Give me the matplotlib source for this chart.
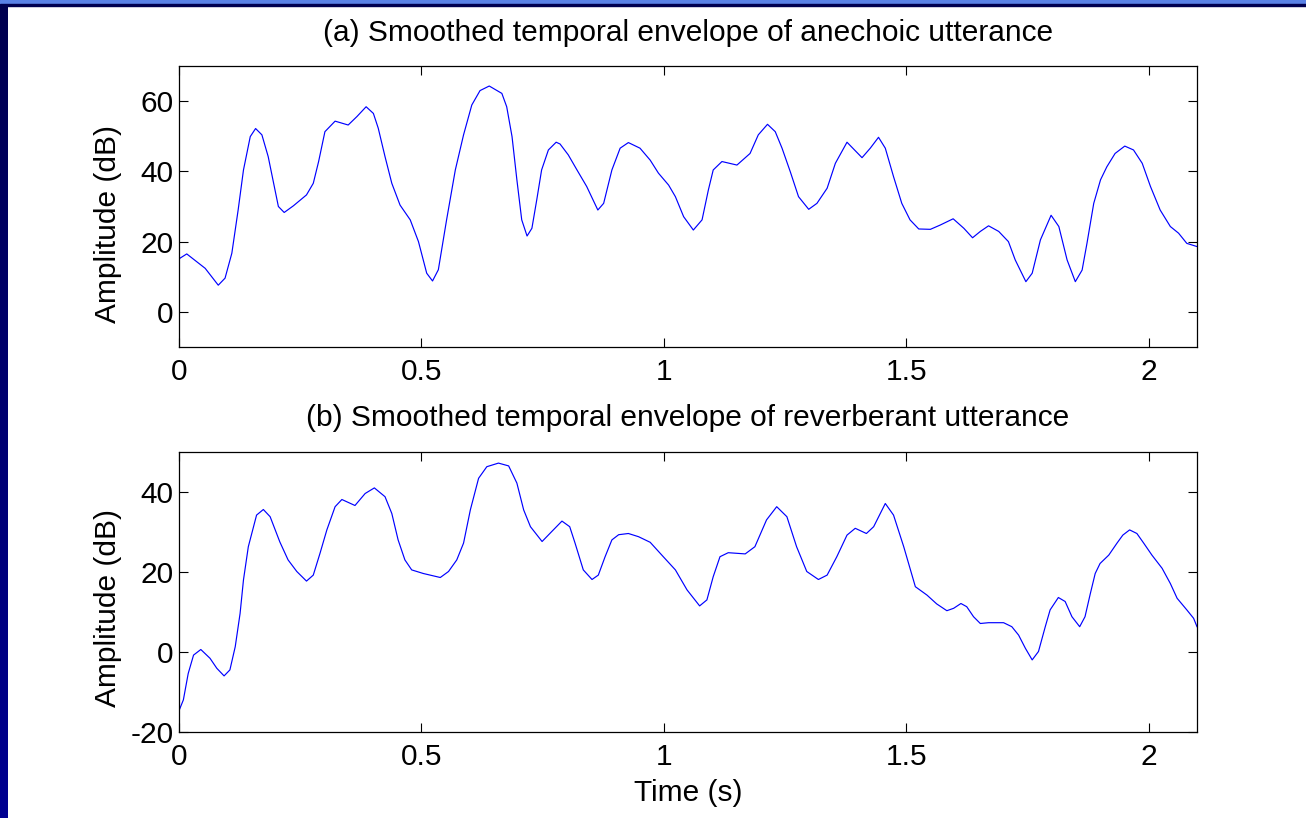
import numpy as np
import matplotlib
matplotlib.use('Agg')
import matplotlib.pyplot as plt

# (time in s, amplitude in dB)
t_a = [0.000, 0.016, 0.054, 0.081, 0.095, 0.109, 0.122, 0.133, 0.147, 0.158,
       0.171, 0.184, 0.205, 0.217, 0.236, 0.263, 0.277, 0.288, 0.301, 0.322,
       0.349, 0.367, 0.386, 0.401, 0.411, 0.425, 0.439, 0.456, 0.477, 0.494,
       0.511, 0.523, 0.535, 0.552, 0.570, 0.587, 0.604, 0.621, 0.640, 0.666,
       0.676, 0.687, 0.697, 0.707, 0.718, 0.728, 0.738, 0.748, 0.762, 0.778,
       0.786, 0.803, 0.821, 0.841, 0.864, 0.876, 0.893, 0.910, 0.927, 0.951,
       0.972, 0.989, 1.010, 1.024, 1.041, 1.061, 1.079, 1.092, 1.102, 1.120,
       1.151, 1.178, 1.195, 1.214, 1.230, 1.244, 1.261, 1.278, 1.299, 1.316,
       1.337, 1.354, 1.378, 1.409, 1.426, 1.443, 1.457, 1.474, 1.491, 1.508,
       1.526, 1.550, 1.570, 1.597, 1.619, 1.637, 1.653, 1.670, 1.691, 1.711,
       1.725, 1.747, 1.760, 1.777, 1.799, 1.815, 1.832, 1.849, 1.863, 1.873,
       1.887, 1.901, 1.914, 1.931, 1.951, 1.969, 1.987, 2.004, 2.024, 2.045,
       2.062, 2.079, 2.100]
amp_a = [15.1, 16.5, 12.4, 7.6, 9.6, 16.7, 29.0, 40.4, 49.9, 52.2,
         50.4, 44.2, 30.0, 28.3, 30.2, 33.3, 36.6, 42.8, 51.3, 54.3,
         53.2, 55.6, 58.4, 56.5, 52.3, 44.2, 36.6, 30.4, 26.2, 20.0,
         11.0, 8.8, 12.0, 26.2, 40.4, 50.4, 58.9, 63.0, 64.3, 62.2,
         58.4, 49.9, 37.6, 26.2, 21.6, 23.8, 31.9, 40.4, 46.1, 48.3,
         47.8, 44.7, 40.4, 35.7, 29.0, 30.9, 40.4, 46.6, 48.2, 46.6,
         43.2, 39.5, 36.1, 32.8, 27.1, 23.3, 26.2, 34.7, 40.4, 42.8,
         41.8, 45.1, 50.4, 53.4, 51.3, 46.6, 39.9, 32.8, 29.2, 30.9,
         35.2, 42.3, 48.3, 43.9, 46.6, 49.7, 46.6, 38.5, 30.9, 26.2,
         23.6, 23.5, 24.7, 26.5, 23.8, 21.1, 22.9, 24.5, 22.9, 20.0,
         14.8, 8.6, 11.0, 20.5, 27.5, 24.3, 14.8, 8.6, 11.9, 19.5,
         30.9, 37.6, 41.3, 45.1, 47.2, 46.1, 42.3, 35.7, 29.0, 24.3,
         22.4, 19.5, 18.6]

t_b = [0.000, 0.009, 0.019, 0.030, 0.045, 0.064, 0.078, 0.093, 0.105, 0.116,
       0.126, 0.133, 0.143, 0.160, 0.174, 0.188, 0.208, 0.225, 0.243, 0.263,
       0.277, 0.291, 0.305, 0.322, 0.336, 0.363, 0.384, 0.403, 0.425, 0.439,
       0.452, 0.466, 0.480, 0.504, 0.539, 0.556, 0.573, 0.587, 0.601, 0.618,
       0.635, 0.659, 0.680, 0.697, 0.711, 0.725, 0.749, 0.769, 0.790, 0.806,
       0.817, 0.834, 0.852, 0.865, 0.879, 0.893, 0.907, 0.927, 0.948, 0.972,
       0.999, 1.024, 1.048, 1.074, 1.089, 1.102, 1.116, 1.133, 1.168, 1.188,
       1.212, 1.233, 1.254, 1.274, 1.295, 1.319, 1.337, 1.357, 1.378, 1.395,
       1.418, 1.433, 1.457, 1.474, 1.495, 1.519, 1.543, 1.563, 1.584, 1.598,
       1.613, 1.625, 1.639, 1.653, 1.670, 1.701, 1.718, 1.732, 1.746, 1.760,
       1.773, 1.787, 1.797, 1.814, 1.828, 1.842, 1.858, 1.869, 1.880, 1.890,
       1.900, 1.918, 1.935, 1.947, 1.961, 1.976, 1.990, 2.007, 2.028, 2.045,
       2.059, 2.079, 2.093, 2.100]
amp_b = [-14.6, -11.9, -5.3, -0.7, 0.7, -1.5, -4.0, -5.9, -4.4, 1.4,
         9.7, 18.1, 26.4, 34.3, 35.7, 33.9, 27.6, 23.1, 20.2, 17.8,
         19.3, 24.8, 30.6, 36.4, 38.2, 36.7, 39.7, 41.1, 38.9, 34.7,
         28.1, 23.1, 20.6, 19.7, 18.7, 20.2, 23.1, 27.3, 35.6, 43.5,
         46.4, 47.3, 46.6, 42.3, 35.6, 31.4, 27.7, 30.2, 32.8, 31.4,
         27.3, 20.6, 18.2, 19.3, 23.9, 28.1, 29.4, 29.7, 28.9, 27.5,
         23.9, 20.6, 15.6, 11.6, 13.1, 18.9, 23.9, 24.9, 24.6, 26.4,
         33.1, 36.4, 33.9, 26.4, 20.2, 18.2, 19.3, 23.9, 29.3, 31.0,
         29.7, 31.4, 37.2, 34.3, 26.4, 16.4, 14.3, 12.1, 10.4, 11.0,
         12.2, 11.4, 8.9, 7.2, 7.4, 7.4, 6.4, 4.3, 1.0, -1.9,
         0.2, 6.4, 10.6, 13.7, 12.7, 8.9, 6.4, 8.9, 14.7, 19.7,
         22.2, 24.3, 27.3, 29.3, 30.6, 29.7, 27.3, 24.3, 21.0, 17.2,
         13.5, 10.6, 8.5, 6.4]

x_ticks = [0, 0.5, 1, 1.5, 2]
x_ticklabels = ['0', '0.5', '1', '1.5', '2']
yticks_a = [0, 20, 40, 60]
yticks_b = [-20, 0, 20, 40]
title_a = '(a) Smoothed temporal envelope of anechoic utterance'
title_b = '(b) Smoothed temporal envelope of reverberant utterance'

plt.rcParams['font.family'] = ['Liberation Sans', 'DejaVu Sans']
plt.rcParams['axes.unicode_minus'] = False
FS = 21.5

W, H = 1306, 818
fig = plt.figure(figsize=(W / 100, H / 100), dpi=100)
fig.patch.set_facecolor('white')

# slide frame: dark strip on the left, blue band on top
bg = fig.add_axes([0, 0, 8 / W, 1])
grad = np.linspace(0, 1, 256).reshape(-1, 1)
cols = np.zeros((256, 1, 3))
cols[:, 0, 2] = 0.31 + 0.26 * grad[:, 0]
bg.imshow(cols, aspect='auto', extent=[0, 1, 0, 1], origin='upper')
bg.axis('off')
fig.patches.append(plt.Rectangle((0, 1 - 4 / H), 1, 4 / H, transform=fig.transFigure,
                                 color='#5a82e6', zorder=5))
fig.patches.append(plt.Rectangle((0, 1 - 6 / H), 1, 2 / H, transform=fig.transFigure,
                                 color='#000050', zorder=5))


def px_axes(left, top, right, bottom):
    return fig.add_axes([left / W, 1 - bottom / H, (right - left) / W, (bottom - top) / H])


def style(ax, yticks, ylim):
    ax.set_xlim(0, 2.1)
    ax.set_ylim(*ylim)
    ax.set_xticks(x_ticks)
    ax.set_xticklabels(x_ticklabels)
    ax.set_yticks(yticks)
    ax.tick_params(direction='in', length=6.5, width=0.8, top=True, right=True,
                   labelsize=FS, color='black')
    ax.tick_params(axis='x', pad=8)
    ax.tick_params(axis='y', pad=4)
    for s in ax.spines.values():
        s.set_linewidth(0.9)


ax1 = px_axes(179, 66, 1197, 347)
ax1.plot(t_a, amp_a, color='#0000ff', lw=0.85)
style(ax1, yticks_a, (-10, 70))

ax2 = px_axes(179, 452.3, 1197, 732.3)
ax2.plot(t_b, amp_b, color='#0000ff', lw=0.85)
style(ax2, yticks_b, (-20, 50))

fig.text(688 / W, 1 - 33 / H, title_a, ha='center', va='center', fontsize=FS)
fig.text(688 / W, 1 - 418 / H, title_b, ha='center', va='center', fontsize=FS)
fig.text(688 / W, 1 - 793 / H, 'Time (s)', ha='center', va='center', fontsize=FS)
fig.text(108 / W, 1 - 224 / H, 'Amplitude (dB)', rotation=90, ha='center', va='center', fontsize=FS)
fig.text(108 / W, 1 - 608 / H, 'Amplitude (dB)', rotation=90, ha='center', va='center', fontsize=FS)

fig.savefig('out.png', dpi=100)
